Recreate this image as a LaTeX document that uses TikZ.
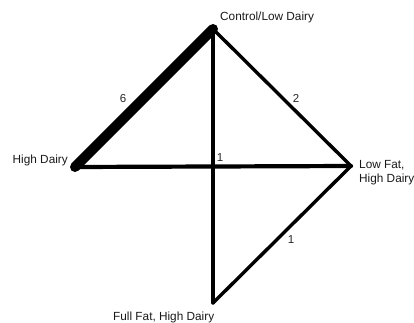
\documentclass[tikz,border=0pt]{standalone}
\usepackage{fontspec}
\setmainfont{Liberation Sans}
\begin{document}
\begin{tikzpicture}[x=1pt,y=-1pt,
  edge/.style={line width=3.4pt,line cap=round,line join=round},
  heavy/.style={line width=10pt,line cap=round},
  lbl/.style={inner sep=0pt,font=\fontsize{11.8}{13.5}\selectfont,text=black!90},
  wlbl/.style={inner sep=0pt,font=\fontsize{11.5}{13}\selectfont,text=black!85}]
\useasboundingbox (0,0) rectangle (414,323);
\coordinate (C) at (213,29);
\coordinate (H) at (75,167);
\coordinate (L) at (351,166);
\coordinate (F) at (213,303);
\draw[edge] (C) -- (L);
\draw[edge] (C) -- (F);
\draw[edge] (L) -- (F);
\draw[edge,line width=4.2pt] (H) -- (L);
\draw[heavy] (C) -- (H);
\node[lbl,anchor=base west] (tC) at (220,21) {Control/Low Dairy};
\node[lbl,anchor=base east] (tH) at (68,163) {High Dairy};
\node[lbl,anchor=base west,align=left] (tL) at (359,182) {Low Fat,\\High Dairy};
\node[lbl,anchor=base west] (tF) at (113,320) {Full Fat, High Dairy};
\node[wlbl] (w6) at (123,99) {6};
\node[wlbl] (w2) at (296,98) {2};
\node[wlbl] (w1a) at (220,158) {1};
\node[wlbl] (w1b) at (291,240) {1};
\end{tikzpicture}
\end{document}
